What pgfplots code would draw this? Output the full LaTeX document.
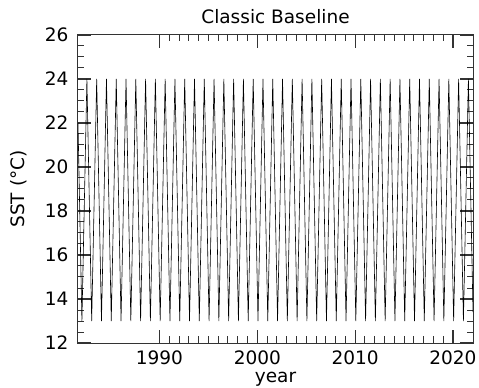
\documentclass[border=0pt]{standalone}
\usepackage{pgfplots}
\pgfplotsset{compat=1.18}
\usepackage{fontspec}
\setmainfont{DejaVu Sans}
\begin{document}
\begin{tikzpicture}
\begin{axis}[
  at={(0,0)}, anchor=south west,
  scale only axis, width=395pt, height=308pt,
  xmin=1981.67, xmax=2022.05, ymin=12, ymax=26,
  xtick={1990,2000,2010,2020}, ytick={12,14,...,26},
  minor x tick num=9, minor y tick num=3,
  tick align=inside,
  major tick length=13pt, minor tick length=6.5pt,
  major tick style={black!80, line width=1.1pt},
  minor tick style={black!80, line width=1pt},
  axis line style={black!80, line width=1pt},
  /pgf/number format/assume math mode=true,
  xticklabel style={/pgf/number format/1000 sep={}, font=\fontsize{18.5}{20}\selectfont, yshift=-4pt},
  yticklabel style={font=\fontsize{18.5}{20}\selectfont, xshift=-6pt},
  xlabel={year}, ylabel={SST (°C)},
  xlabel style={font=\fontsize{18.5}{20}\selectfont, yshift=-1pt},
  ylabel style={font=\fontsize{18.5}{20}\selectfont, yshift=11pt},
  title={Classic Baseline},
  title style={font=\fontsize{18.5}{20}\selectfont, yshift=2pt},
]
\addplot[black, line width=0.6pt, line join=miter] coordinates {
(1981.67,22.0)
(1982.07,13) (1982.58,24)
(1983.07,13) (1983.58,24)
(1984.07,13) (1984.58,24)
(1985.07,13) (1985.58,24)
(1986.07,13) (1986.58,24)
(1987.07,13) (1987.58,24)
(1988.07,13) (1988.58,24)
(1989.07,13) (1989.58,24)
(1990.07,13) (1990.58,24)
(1991.07,13) (1991.58,24)
(1992.07,13) (1992.58,24)
(1993.07,13) (1993.58,24)
(1994.07,13) (1994.58,24)
(1995.07,13) (1995.58,24)
(1996.07,13) (1996.58,24)
(1997.07,13) (1997.58,24)
(1998.07,13) (1998.58,24)
(1999.07,13) (1999.58,24)
(2000.07,13) (2000.58,24)
(2001.07,13) (2001.58,24)
(2002.07,13) (2002.58,24)
(2003.07,13) (2003.58,24)
(2004.07,13) (2004.58,24)
(2005.07,13) (2005.58,24)
(2006.07,13) (2006.58,24)
(2007.07,13) (2007.58,24)
(2008.07,13) (2008.58,24)
(2009.07,13) (2009.58,24)
(2010.07,13) (2010.58,24)
(2011.07,13) (2011.58,24)
(2012.07,13) (2012.58,24)
(2013.07,13) (2013.58,24)
(2014.07,13) (2014.58,24)
(2015.07,13) (2015.58,24)
(2016.07,13) (2016.58,24)
(2017.07,13) (2017.58,24)
(2018.07,13) (2018.58,24)
(2019.07,13) (2019.58,24)
(2020.07,13) (2020.58,24)
(2021.07,13) (2021.58,24)
(2022.05,13.4)
};
\end{axis}
\pgfresetboundingbox
\path (-78pt,-45pt) rectangle (401pt,343pt);
\end{tikzpicture}
\end{document}
